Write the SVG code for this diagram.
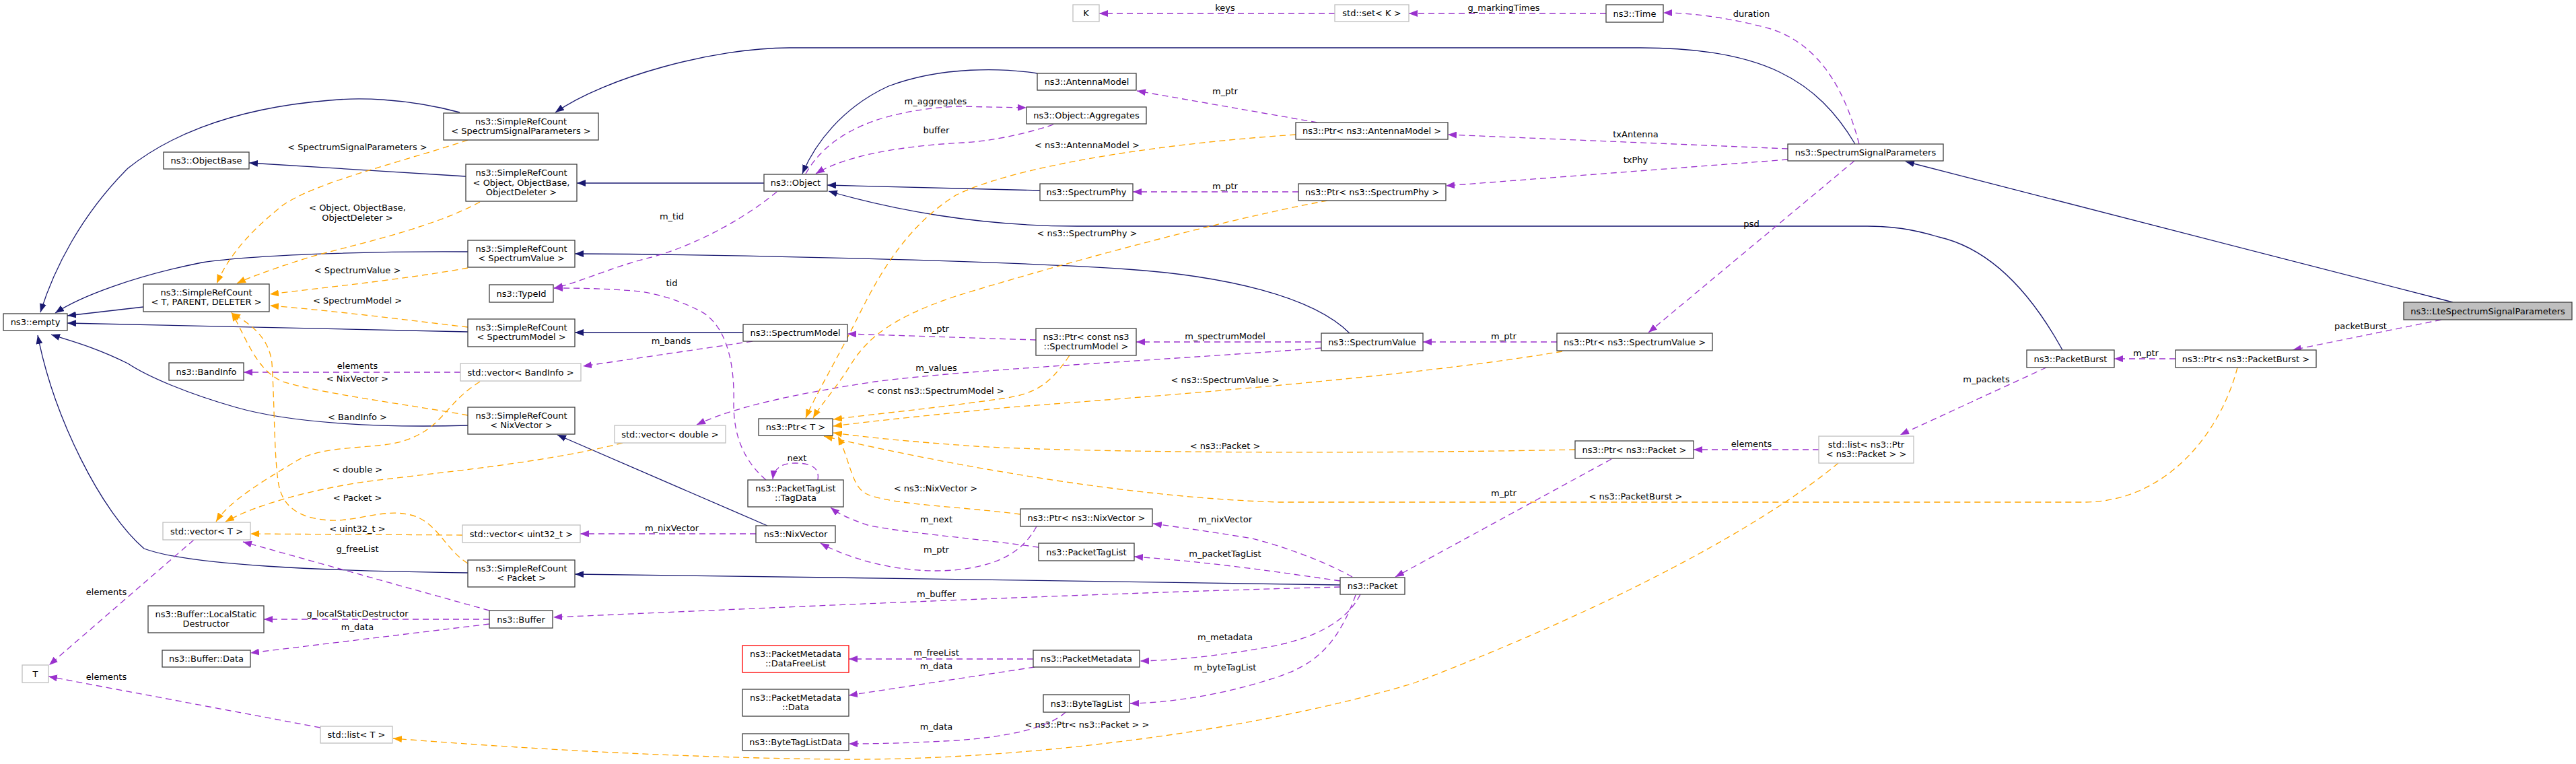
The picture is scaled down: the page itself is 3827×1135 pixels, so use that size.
<svg xmlns="http://www.w3.org/2000/svg" width="3827" height="1135" viewBox="0 0 3827 1135">
<style>
text{font-family:"DejaVu Sans","Liberation Sans",sans-serif;font-size:13px;fill:#000;text-anchor:middle}
.n rect{fill:#fff;stroke:#404040;stroke-width:1.3}
.g rect{fill:#fff;stroke:#bfbfbf;stroke-width:1.3}
.r rect{fill:#fff;stroke:#ff0000;stroke-width:1.3}
.m rect{fill:#bfbfbf;stroke:#404040;stroke-width:1.3}
.inh{fill:none;stroke:#191970;stroke-width:1.3;marker-end:url(#ab)}
.use{fill:none;stroke:#9a32cd;stroke-width:1.3;stroke-dasharray:9,6;marker-end:url(#ap)}
.tpl{fill:none;stroke:#ffa500;stroke-width:1.3;stroke-dasharray:9,6;marker-end:url(#ao)}
</style>
<defs>
<marker id="ab" viewBox="0 0 13 10" refX="13" refY="5" markerWidth="13" markerHeight="10" markerUnits="userSpaceOnUse" orient="auto"><path d="M0,0L13,5L0,10z" fill="#191970"/></marker>
<marker id="ap" viewBox="0 0 13 10" refX="13" refY="5" markerWidth="13" markerHeight="10" markerUnits="userSpaceOnUse" orient="auto"><path d="M0,0L13,5L0,10z" fill="#9a32cd"/></marker>
<marker id="ao" viewBox="0 0 13 10" refX="13" refY="5" markerWidth="13" markerHeight="10" markerUnits="userSpaceOnUse" orient="auto"><path d="M0,0L13,5L0,10z" fill="#ffa500"/></marker>
</defs>
<rect width="3827" height="1135" fill="#fff"/>
<g id="connectors">
<!-- inheritance -->
<path class="inh" d="M683,167 C600,145 530,145 490,149 C330,162 240,210 190,250 C120,320 80,400 60,464"/>
<path class="inh" d="M2756,214 C2700,120 2620,71 2437,71 L1173,71 C1060,71 900,115 825,167"/>
<path class="inh" d="M692,262 L370,242"/>
<path class="inh" d="M1135,272 L857,272"/>
<path class="inh" d="M695,374 C560,373 380,378 300,390 C200,410 120,440 82,465"/>
<path class="inh" d="M213,456 L100,469"/>
<path class="inh" d="M695,493 L100,480"/>
<path class="inh" d="M695,632 C560,636 430,628 350,605 C280,585 220,560 190,540 C140,515 100,505 76,497"/>
<path class="inh" d="M695,851 C480,848 280,840 214,815 C150,760 80,620 56,498"/>
<path class="inh" d="M2005,495 C1950,440 1820,410 1675,400 C1500,388 1100,378 854,377"/>
<path class="inh" d="M1104,494 L854,494"/>
<path class="inh" d="M1140,781 L828,646"/>
<path class="inh" d="M1991,869 C1700,866 1200,856 854,853"/>
<path class="inh" d="M1541,109 C1490,101 1400,98 1320,128 C1250,160 1210,215 1192,258"/>
<path class="inh" d="M1545,283 L1229,275"/>
<path class="inh" d="M3064,520 C3020,440 2960,370 2880,352 C2840,340 2810,336 2774,336 L1600,336 C1450,336 1320,310 1231,284"/>
<path class="inh" d="M3644,449 L2831,240"/>
<!-- usage -->
<path class="use" d="M1983,20 L1633,20"/>
<path class="use" d="M2386,20 L2093,20"/>
<path class="use" d="M2762,214 C2740,130 2700,60 2620,40 C2560,25 2510,19 2471,19"/>
<path class="use" d="M2656,221 L2151,200"/>
<path class="use" d="M2656,237 L2148,276"/>
<path class="use" d="M2755,239 L2449,494"/>
<path class="use" d="M1957,182 L1689,135"/>
<path class="use" d="M1929,285 L1683,285"/>
<path class="use" d="M1197,258 C1230,200 1300,165 1420,158 L1525,160"/>
<path class="use" d="M1565,185 C1520,200 1470,210 1430,212 C1320,218 1250,235 1212,258"/>
<path class="use" d="M1154,285 C1100,330 1020,370 960,384 C900,400 860,420 823,428"/>
<path class="use" d="M1138,713 C1100,680 1090,640 1090,600 C1092,530 1075,480 1040,462 C1010,446 970,434 940,432 C890,428 850,428 823,428"/>
<path class="use" d="M1118,507 L866,544"/>
<path class="use" d="M684,553 L362,553"/>
<path class="use" d="M1539,505 L1259,496"/>
<path class="use" d="M1963,508 L1688,508"/>
<path class="use" d="M1963,517 C1700,537 1450,548 1300,567 C1180,585 1090,605 1035,631"/>
<path class="use" d="M2313,508 L2114,508"/>
<path class="use" d="M1123,793 L862,793"/>
<path class="use" d="M1540,782 C1525,810 1500,830 1460,840 C1380,860 1280,840 1219,807"/>
<path class="use" d="M1543,813 C1450,800 1330,790 1289,780 C1265,772 1248,765 1234,754"/>
<path class="use" d="M2009,857 C1960,830 1900,810 1860,800 C1800,790 1750,783 1713,778"/>
<path class="use" d="M1991,863 C1900,850 1800,835 1685,827"/>
<path class="use" d="M1991,872 C1600,882 1100,905 822,917"/>
<path class="use" d="M2021,883 C2000,925 1950,950 1880,962 C1800,976 1740,981 1694,982"/>
<path class="use" d="M2014,884 C1990,950 1960,985 1900,1005 C1820,1032 1740,1044 1679,1045"/>
<path class="use" d="M1535,979 L1261,979"/>
<path class="use" d="M1537,991 L1261,1033"/>
<path class="use" d="M1583,1058 C1560,1080 1500,1095 1420,1100 C1350,1104 1300,1105 1261,1105"/>
<path class="use" d="M727,907 L361,805"/>
<path class="use" d="M727,920 L392,920"/>
<path class="use" d="M727,927 L372,970"/>
<path class="use" d="M288,802 L73,988"/>
<path class="use" d="M476,1081 L72,1005"/>
<path class="use" d="M2394,682 L2073,857"/>
<path class="use" d="M2702,668 L2516,668"/>
<path class="use" d="M3040,546 L2823,646"/>
<path class="use" d="M3232,533 L3141,533"/>
<path class="use" d="M3627,475 L3406,520"/>
<path class="use" d="M1215,713 C1218,695 1205,688 1182,688 C1162,688 1150,695 1148,712"/>
<!-- template -->
<path class="tpl" d="M695,208 C600,240 470,270 420,305 C370,345 340,380 322,421"/>
<path class="tpl" d="M713,300 C640,340 520,365 460,382 C410,398 375,410 352,421"/>
<path class="tpl" d="M695,398 C600,415 500,425 401,437"/>
<path class="tpl" d="M695,486 C600,475 500,462 401,454"/>
<path class="tpl" d="M695,617 C600,600 480,585 420,567 C380,550 365,500 344,464"/>
<path class="tpl" d="M695,837 C660,815 650,775 610,765 C570,755 530,775 490,773 C440,770 420,750 414,720 C407,680 408,600 404,540 C400,500 370,480 344,465"/>
<path class="tpl" d="M713,567 C660,600 660,635 600,655 C560,668 480,660 440,685 C390,715 340,745 321,775"/>
<path class="tpl" d="M925,658 C800,690 620,705 540,716 C460,728 380,750 335,775"/>
<path class="tpl" d="M687,795 L372,793"/>
<path class="tpl" d="M2731,688 C2620,780 2400,900 2100,1015 C1850,1090 1500,1130 1250,1128 C1000,1126 750,1110 584,1097"/>
<path class="tpl" d="M1589,528 C1560,570 1540,585 1490,592 C1400,605 1300,615 1238,623"/>
<path class="tpl" d="M2321,522 C2100,560 1700,590 1500,605 C1400,615 1300,625 1238,633"/>
<path class="tpl" d="M2340,668 C2000,675 1600,672 1450,663 C1350,656 1290,650 1238,643"/>
<path class="tpl" d="M1516,764 C1420,752 1330,750 1290,735 C1265,725 1265,690 1245,648"/>
<path class="tpl" d="M3324,546 C3300,640 3220,746 3096,746 L1900,746 C1700,740 1450,700 1224,648"/>
<path class="tpl" d="M1925,200 C1700,215 1500,250 1420,290 C1340,340 1300,420 1270,480 C1240,540 1210,590 1197,621"/>
<path class="tpl" d="M1972,298 C1800,330 1550,400 1420,440 C1330,470 1290,500 1265,540 C1240,580 1220,600 1208,621"/>
<!-- labels -->
<text x="531" y="223">&lt; SpectrumSignalParameters &gt;</text>
<text x="531" y="313">&lt; Object, ObjectBase,</text>
<text x="531" y="328">ObjectDeleter &gt;</text>
<text x="531" y="406">&lt; SpectrumValue &gt;</text>
<text x="531" y="451">&lt; SpectrumModel &gt;</text>
<text x="531" y="548">elements</text>
<text x="531" y="567">&lt; NixVector &gt;</text>
<text x="531" y="624">&lt; BandInfo &gt;</text>
<text x="531" y="702">&lt; double &gt;</text>
<text x="531" y="744">&lt; Packet &gt;</text>
<text x="531" y="790">&lt; uint32_t &gt;</text>
<text x="531" y="820">g_freeList</text>
<text x="158" y="884">elements</text>
<text x="531" y="916">g_localStaticDestructor</text>
<text x="531" y="936">m_data</text>
<text x="158" y="1010">elements</text>
<text x="1820" y="16">keys</text>
<text x="1820" y="140">m_ptr</text>
<text x="1390" y="155">m_aggregates</text>
<text x="1391" y="198">buffer</text>
<text x="1615" y="220">&lt; ns3::AntennaModel &gt;</text>
<text x="1820" y="281">m_ptr</text>
<text x="998" y="326">m_tid</text>
<text x="1615" y="351">&lt; ns3::SpectrumPhy &gt;</text>
<text x="998" y="425">tid</text>
<text x="997" y="511">m_bands</text>
<text x="1391" y="493">m_ptr</text>
<text x="1820" y="504">m_spectrumModel</text>
<text x="1391" y="551">m_values</text>
<text x="1820" y="569">&lt; ns3::SpectrumValue &gt;</text>
<text x="1390" y="585">&lt; const ns3::SpectrumModel &gt;</text>
<text x="1820" y="667">&lt; ns3::Packet &gt;</text>
<text x="1184" y="685">next</text>
<text x="1390" y="730">&lt; ns3::NixVector &gt;</text>
<text x="998" y="789">m_nixVector</text>
<text x="1391" y="776">m_next</text>
<text x="1820" y="776">m_nixVector</text>
<text x="1391" y="821">m_ptr</text>
<text x="1820" y="827">m_packetTagList</text>
<text x="1391" y="887">m_buffer</text>
<text x="1820" y="951">m_metadata</text>
<text x="1391" y="974">m_freeList</text>
<text x="1391" y="994">m_data</text>
<text x="1820" y="996">m_byteTagList</text>
<text x="1615" y="1081">&lt; ns3::Ptr&lt; ns3::Packet &gt; &gt;</text>
<text x="1391" y="1084">m_data</text>
<text x="2234" y="16">g_markingTimes</text>
<text x="2602" y="25">duration</text>
<text x="2430" y="204">txAntenna</text>
<text x="2430" y="242">txPhy</text>
<text x="2602" y="337">psd</text>
<text x="2234" y="504">m_ptr</text>
<text x="2602" y="664">elements</text>
<text x="2234" y="737">m_ptr</text>
<text x="2430" y="742">&lt; ns3::PacketBurst &gt;</text>
<text x="3507" y="489">packetBurst</text>
<text x="3188" y="529">m_ptr</text>
<text x="2951" y="568">m_packets</text>
</g>
<g id="n-lte" class="m"><rect x="3571" y="449" width="250" height="26"/><text x="3696" y="466.5">ns3::LteSpectrumSignalParameters</text></g>
<g id="n-ssp" class="n"><rect x="2656" y="214" width="231" height="25"/><text x="2771.5" y="231">ns3::SpectrumSignalParameters</text></g>
<g id="n-src-ssp" class="n"><rect x="659" y="168" width="230" height="40"/><text x="774" y="185">ns3::SimpleRefCount</text><text x="774" y="199">&lt; SpectrumSignalParameters &gt;</text></g>
<g id="n-empty" class="n"><rect x="5" y="466" width="95" height="25"/><text x="52.5" y="483">ns3::empty</text></g>
<g id="n-object" class="n"><rect x="1135" y="259" width="94" height="25"/><text x="1182" y="276">ns3::Object</text></g>
<g id="n-src-object" class="n"><rect x="692" y="244" width="165" height="55"/><text x="774.5" y="261">ns3::SimpleRefCount</text><text x="774.5" y="275.5">&lt; Object, ObjectBase,</text><text x="774.5" y="290">ObjectDeleter &gt;</text></g>
<g id="n-objectbase" class="n"><rect x="243" y="226" width="127" height="25"/><text x="306.5" y="243">ns3::ObjectBase</text></g>
<g id="n-antennamodel" class="n"><rect x="1541" y="109" width="147" height="25"/><text x="1614.5" y="126">ns3::AntennaModel</text></g>
<g id="n-aggregates" class="n"><rect x="1525" y="159" width="178" height="25"/><text x="1614" y="176">ns3::Object::Aggregates</text></g>
<g id="n-typeid" class="n"><rect x="727" y="423" width="95" height="26"/><text x="774.5" y="440.5">ns3::TypeId</text></g>
<g id="n-spectrumphy" class="n"><rect x="1545" y="273" width="138" height="25"/><text x="1614" y="290">ns3::SpectrumPhy</text></g>
<g id="n-packetburst" class="n"><rect x="3011" y="520" width="130" height="26"/><text x="3076" y="537.5">ns3::PacketBurst</text></g>
<g id="n-src-sv" class="n"><rect x="695" y="357" width="159" height="40"/><text x="774.5" y="374">ns3::SimpleRefCount</text><text x="774.5" y="388">&lt; SpectrumValue &gt;</text></g>
<g id="n-src-tpd" class="n"><rect x="213" y="422" width="187" height="41"/><text x="306.5" y="439">ns3::SimpleRefCount</text><text x="306.5" y="453">&lt; T, PARENT, DELETER &gt;</text></g>
<g id="n-spectrumvalue" class="n"><rect x="1963" y="495" width="151" height="26"/><text x="2038.5" y="512.5">ns3::SpectrumValue</text></g>
<g id="n-src-sm" class="n"><rect x="695" y="474" width="159" height="41"/><text x="774.5" y="491">ns3::SimpleRefCount</text><text x="774.5" y="505">&lt; SpectrumModel &gt;</text></g>
<g id="n-spectrummodel" class="n"><rect x="1104" y="482" width="155" height="25"/><text x="1181.5" y="499">ns3::SpectrumModel</text></g>
<g id="n-bandinfo" class="n"><rect x="251" y="539" width="111" height="26"/><text x="306.5" y="556.5">ns3::BandInfo</text></g>
<g id="n-vec-bandinfo" class="g"><rect x="684" y="540" width="179" height="26"/><text x="773.5" y="557.5">std::vector&lt; BandInfo &gt;</text></g>
<g id="n-ptr-csm" class="n"><rect x="1539" y="488" width="149" height="40"/><text x="1613.5" y="505">ns3::Ptr&lt; const ns3</text><text x="1613.5" y="519">::SpectrumModel &gt;</text></g>
<g id="n-src-nv" class="n"><rect x="695" y="605" width="159" height="40"/><text x="774.5" y="622">ns3::SimpleRefCount</text><text x="774.5" y="636">&lt; NixVector &gt;</text></g>
<g id="n-nixvector" class="n"><rect x="1123" y="781" width="118" height="25"/><text x="1182" y="798">ns3::NixVector</text></g>
<g id="n-vec-double" class="g"><rect x="913" y="632" width="165" height="26"/><text x="995.5" y="649.5">std::vector&lt; double &gt;</text></g>
<g id="n-ptr-t" class="n"><rect x="1127" y="622" width="110" height="25"/><text x="1182" y="639">ns3::Ptr&lt; T &gt;</text></g>
<g id="n-tagdata" class="n"><rect x="1111" y="713" width="142" height="40"/><text x="1182" y="730">ns3::PacketTagList</text><text x="1182" y="744">::TagData</text></g>
<g id="n-vec-t" class="g"><rect x="242" y="776" width="130" height="26"/><text x="307" y="793.5">std::vector&lt; T &gt;</text></g>
<g id="n-vec-uint32" class="g"><rect x="687" y="780" width="175" height="26"/><text x="774.5" y="797.5">std::vector&lt; uint32_t &gt;</text></g>
<g id="n-src-packet" class="n"><rect x="695" y="832" width="159" height="40"/><text x="774.5" y="849">ns3::SimpleRefCount</text><text x="774.5" y="863">&lt; Packet &gt;</text></g>
<g id="n-buffer" class="n"><rect x="727" y="907" width="94" height="26"/><text x="774" y="924.5">ns3::Buffer</text></g>
<g id="n-lsd" class="n"><rect x="220" y="900" width="172" height="40"/><text x="306" y="917">ns3::Buffer::LocalStatic</text><text x="306" y="931">Destructor</text></g>
<g id="n-buffer-data" class="n"><rect x="241" y="966" width="131" height="25"/><text x="306.5" y="983">ns3::Buffer::Data</text></g>
<g id="n-t" class="g"><rect x="33" y="988" width="39" height="26"/><text x="52.5" y="1005.5">T</text></g>
<g id="n-list-t" class="g"><rect x="476" y="1079" width="107" height="25"/><text x="529.5" y="1096">std::list&lt; T &gt;</text></g>
<g id="n-k" class="g"><rect x="1594" y="7" width="39" height="25"/><text x="1613.5" y="24">K</text></g>
<g id="n-set-k" class="g"><rect x="1983" y="7" width="110" height="25"/><text x="2038" y="24">std::set&lt; K &gt;</text></g>
<g id="n-time" class="n"><rect x="2386" y="7" width="85" height="26"/><text x="2428.5" y="24.5">ns3::Time</text></g>
<g id="n-ptr-am" class="n"><rect x="1925" y="182" width="226" height="25"/><text x="2038" y="199">ns3::Ptr&lt; ns3::AntennaModel &gt;</text></g>
<g id="n-ptr-sp" class="n"><rect x="1929" y="273" width="219" height="25"/><text x="2038.5" y="290">ns3::Ptr&lt; ns3::SpectrumPhy &gt;</text></g>
<g id="n-ptr-sv" class="n"><rect x="2313" y="495" width="231" height="26"/><text x="2428.5" y="512.5">ns3::Ptr&lt; ns3::SpectrumValue &gt;</text></g>
<g id="n-ptr-nv" class="n"><rect x="1516" y="756" width="196" height="26"/><text x="1614" y="773.5">ns3::Ptr&lt; ns3::NixVector &gt;</text></g>
<g id="n-packettaglist" class="n"><rect x="1543" y="807" width="142" height="26"/><text x="1614" y="824.5">ns3::PacketTagList</text></g>
<g id="n-packet" class="n"><rect x="1991" y="858" width="96" height="25"/><text x="2039" y="875">ns3::Packet</text></g>
<g id="n-datafreelist" class="r"><rect x="1103" y="959" width="158" height="40"/><text x="1182" y="976">ns3::PacketMetadata</text><text x="1182" y="990">::DataFreeList</text></g>
<g id="n-packetmetadata" class="n"><rect x="1535" y="966" width="158" height="25"/><text x="1614" y="983">ns3::PacketMetadata</text></g>
<g id="n-pm-data" class="n"><rect x="1103" y="1024" width="158" height="40"/><text x="1182" y="1041">ns3::PacketMetadata</text><text x="1182" y="1055">::Data</text></g>
<g id="n-bytetaglist" class="n"><rect x="1550" y="1032" width="128" height="26"/><text x="1614" y="1049.5">ns3::ByteTagList</text></g>
<g id="n-bytetaglistdata" class="n"><rect x="1103" y="1090" width="158" height="25"/><text x="1182" y="1107">ns3::ByteTagListData</text></g>
<g id="n-ptr-packet" class="n"><rect x="2340" y="655" width="176" height="26"/><text x="2428" y="672.5">ns3::Ptr&lt; ns3::Packet &gt;</text></g>
<g id="n-list-ptr-packet" class="g"><rect x="2702" y="648" width="141" height="40"/><text x="2772.5" y="665">std::list&lt; ns3::Ptr</text><text x="2772.5" y="679">&lt; ns3::Packet &gt; &gt;</text></g>
<g id="n-ptr-packetburst" class="n"><rect x="3232" y="520" width="209" height="26"/><text x="3336.5" y="537.5">ns3::Ptr&lt; ns3::PacketBurst &gt;</text></g>
</svg>
